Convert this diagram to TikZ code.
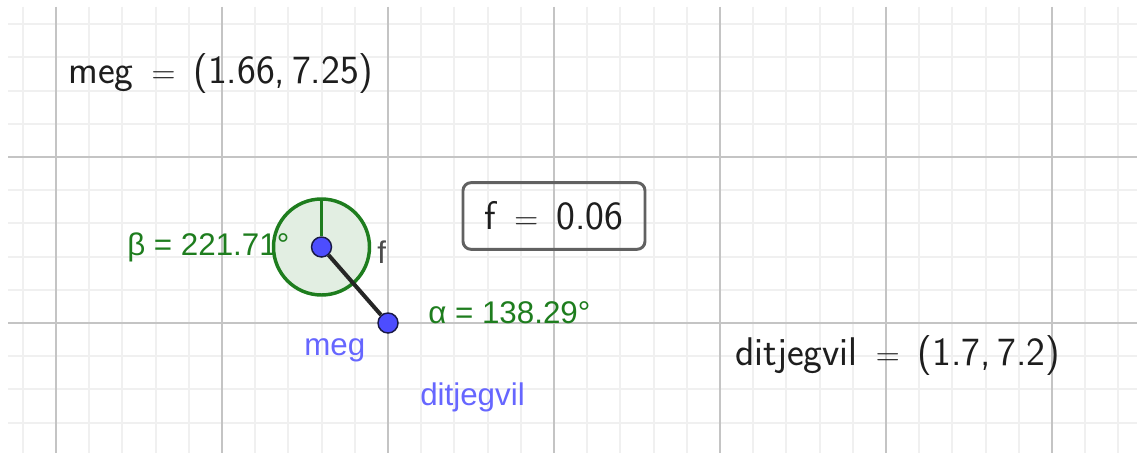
\documentclass[tikz,border=0pt]{standalone}
\usepackage{fontspec}
\newfontfamily\arialf{Liberation Sans}
\definecolor{minorg}{RGB}{240,240,240}
\definecolor{majorg}{RGB}{196,196,196}
\definecolor{ggreen}{RGB}{30,125,30}
\definecolor{gfill}{RGB}{226,238,226}
\definecolor{gblue}{RGB}{102,102,255}
\definecolor{ptblue}{RGB}{77,77,255}
\definecolor{ptedge}{RGB}{25,25,70}
\definecolor{txt}{RGB}{30,30,30}
\tikzset{
  minorline/.style={draw=minorg, line width=1.5pt},
  majorline/.style={draw=majorg, line width=1.6pt},
  pt/.style={circle, fill=ptblue, draw=ptedge, line width=1.1pt, minimum size=15pt, inner sep=0pt},
  seg/.style={draw=black!85, line width=3pt},
  anglestyle/.style={draw=ggreen, line width=2.6pt},
  mathlbl/.style={anchor=base west, inner sep=0pt, text=txt, font=\fontsize{30}{36}\selectfont\sffamily},
  glbl/.style={anchor=base west, inner sep=0pt, text=ggreen, font=\fontsize{23.5}{28}\selectfont\arialf},
  blbl/.style={anchor=base west, inner sep=0pt, text=gblue, font=\fontsize{23.5}{28}\selectfont\arialf},
  flbl/.style={anchor=base west, inner sep=0pt, text=black!70, font=\fontsize{23.5}{28}\selectfont\arialf},
  valbox/.style={draw=black!62, line width=2.2pt, rounded corners=6pt, minimum width=136.5pt, minimum height=50pt, inner sep=0pt, text=txt, font=\fontsize{30}{36}\selectfont\sffamily}
}
\newcommand{\eqsp}{\hspace{0.45em}$=$\hspace{0.45em}}
\begin{document}
\begin{tikzpicture}[x=0.75pt, y=-0.75pt]
\useasboundingbox (0,0) rectangle (1137,453);
\fill[white] (0,0) rectangle (1137,453);
% minor grid
\foreach \k in {-1,...,32} {
  \draw[minorline] ({56+33.2*\k},7) -- ({56+33.2*\k},453);
}
\foreach \k in {-4,...,8} {
  \draw[minorline] (8,{157+33.2*\k}) -- (1137,{157+33.2*\k});
}
% major grid
\foreach \k in {0,...,6} {
  \draw[majorline] ({56+166*\k},7) -- ({56+166*\k},453);
}
\foreach \yy in {157,323} {
  \draw[majorline] (8,\yy) -- (1137,\yy);
}
% angle circle
\fill[gfill] (321.5,247) circle[radius=36pt];
\draw[anglestyle] (321.5,247) circle[radius=36pt];
% points
\node[pt] (meg) at (321.5,247) {};
\node[pt] (dit) at (388,323) {};
\coordinate (top) at (321.5,199);
\draw[anglestyle] (meg) -- (top);
\draw[seg] (meg) -- (dit);
% labels
\node[mathlbl] (megeq) at (68,84) {meg\eqsp(1.66,\,7.25)};
\node[mathlbl] (diteq) at (735,365) {ditjegvil\eqsp(1.7,\,7.2)};
\node[valbox] (fbox) at (554,216) {f\eqsp0.06};
\node[glbl] (beta) at (127,255) {β = 221.71°};
\node[glbl] (alpha) at (428,323) {α = 138.29°};
\node[flbl] (flab) at (377,263) {f};
\node[blbl] (meglab) at (304,355) {meg};
\node[blbl] (ditlab) at (420,405) {ditjegvil};
\end{tikzpicture}
\end{document}
